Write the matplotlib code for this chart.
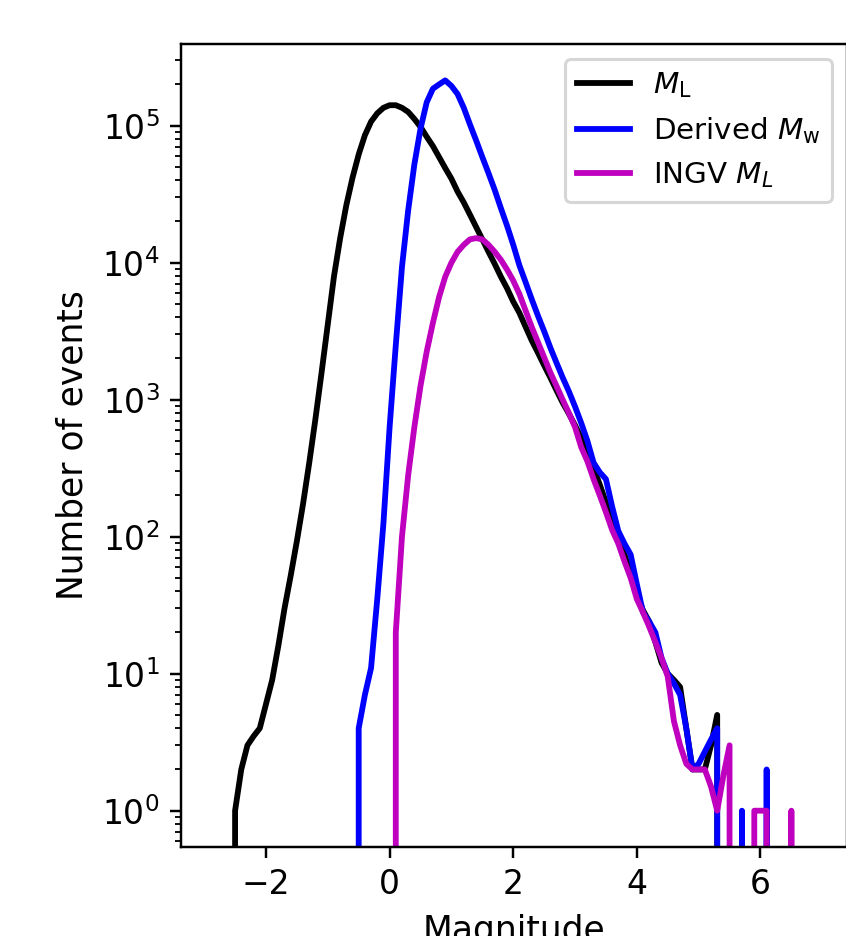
import numpy as np
import matplotlib
matplotlib.use("Agg")
import matplotlib.pyplot as plt

# ---- data (histogram counts per 0.1 magnitude bin) ----
ml_start = -2.6
ml_counts = [0, 1, 2, 3, 3.5, 4, 6, 9, 16, 30, 52, 93, 174, 347, 724, 1585, 3550,
             7940, 15100, 26300, 41700, 61700, 85100, 107000, 123000, 135000,
             141000, 141000, 135000, 126000, 112000, 98000, 83000, 71000, 59000,
             49000, 41000, 33000, 27500, 22400, 18200, 14800, 12000, 9800, 7900,
             6500, 5200, 4300, 3400, 2700, 2200, 1780, 1450, 1170, 950, 790, 650,
             525, 400, 316, 240, 178, 132, 95, 74, 54, 38, 29, 24, 17, 12, 10, 9,
             8, 4, 2, 2, 2, 3, 5, 0]

mw_start = -0.6
mw_counts = [0, 4, 7, 11, 35, 125, 630, 2500, 9300, 24000, 52000, 95000, 148000,
             186000, 200000, 214000, 195000, 170000, 135000, 102000, 78000, 59000,
             45000, 34000, 25000, 18600, 13500, 9550, 7200, 5400, 4100, 3160, 2400,
             1860, 1450, 1150, 890, 676, 500, 347, 295, 263, 166, 110, 89, 74, 45,
             28, 24, 20, 13, 10, 8.5, 7, 4, 2, 2.2, 2.7, 3.3, 4, 0, 0, 0, 1, 0, 0,
             0, 2, 0]

ingv_start = 0.0
ingv_counts = [0, 20, 100, 280, 630, 1260, 2240, 3630, 5600, 7900, 10000, 12000,
               13500, 14800, 15100, 14800, 13500, 12000, 10500, 8900, 7400, 5900,
               4470, 3390, 2630, 2040, 1580, 1260, 1000, 800, 630, 450, 355, 263,
               200, 151, 112, 89, 66, 50, 35, 28, 22, 17, 13, 9.5, 4.5, 3, 2.2, 2,
               2, 2, 1.5, 1, 1.8, 3, 0, 0, 0, 1, 1, 1, 0, 0, 0, 1, 0]

bin_width = 0.1
labels = [r'$M_{\rm L}$', r'Derived $M_{\rm w}$', r'INGV $M_L$']
colors = ['k', 'b', 'm']
xticks = [-2, 0, 2, 4, 6]


def centers(start, counts):
    return start + bin_width * np.arange(len(counts))


W, H, DPI = 846, 936, 220
fig = plt.figure(figsize=(W / DPI, H / DPI), dpi=DPI)
ax = fig.add_axes([181 / W, 89 / H, 666 / W, 803 / H])
ax.set_yscale('log', nonpositive='clip')

series = [(ml_start, ml_counts), (mw_start, mw_counts), (ingv_start, ingv_counts)]
for (s, c), lab, col in zip(series, labels, colors):
    ax.plot(centers(s, c), c, color=col, label=lab, lw=1.9)

ax.set_xlim(-3.375, 7.40)
ax.set_ylim(10 ** -0.265, 10 ** 5.596)
ax.set_xticks(xticks)
ax.tick_params(labelsize=10.8)
ax.set_xlabel('Magnitude', fontsize=11.3)
ax.set_ylabel('Number of events', fontsize=11.3)
ax.legend(loc='upper right', fontsize=9.6, handlelength=1.8)

fig.savefig('out.png', dpi=DPI)
